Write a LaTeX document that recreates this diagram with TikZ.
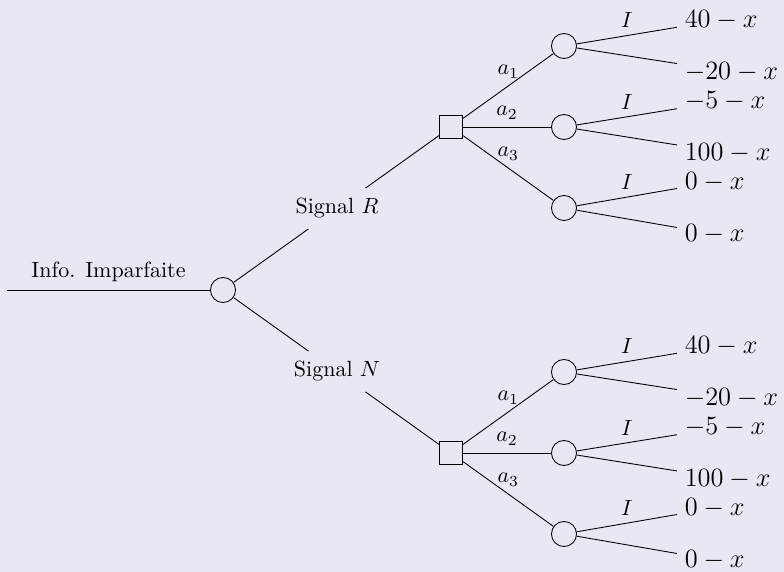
\documentclass[tikz,border=0pt]{standalone}
\definecolor{bgcol}{RGB}{232,232,242}
\begin{document}
\begin{tikzpicture}[x=0.4545pt,y=-0.4545pt,
  chance/.style={circle,draw,inner sep=0pt,minimum size=11.4pt},
  decision/.style={rectangle,draw,inner sep=0pt,minimum size=10.6pt},
  signal/.style={inner xsep=3.33pt,inner ysep=4.5pt},
  payoff/.style={anchor=west,font=\large},
  lab/.style={midway,above}]
  % canvas
  \fill[bgcol] (0,0) rectangle (784,572);
  \useasboundingbox (0,0) rectangle (784,572);

  % information node and the two signals
  \coordinate (start) at (7,290);
  \node[chance] (root) at (223,290) {};
  \node[signal] (sR) at (337,208.5) {Signal $R$};
  \node[signal] (sN) at (337,371.5) {Signal $N$};
  \draw (start) -- node[lab] {Info. Imparfaite} (root);
  \draw (root) -- (sR);
  \draw (root) -- (sN);

  % decision after each signal, then actions and payoffs
  \foreach \g/\gy in {R/127, N/453} {
    \node[decision] (d\g) at (451,\gy) {};
    \draw (s\g) -- (d\g);
    \foreach \k/\dy/\up/\lo in {1/-81/40/-20, 2/0/-5/100, 3/81/0/0} {
      \node[chance] (c\g\k) at (564,{\gy+(\dy)}) {};
      \node[payoff] (u\g\k) at (677,{\gy+(\dy)-26}) {$\up-x$};
      \node[payoff] (l\g\k) at (677,{\gy+(\dy)+26}) {$\lo-x$};
      \draw (d\g) -- node[lab] {$a_\k$} (c\g\k);
      \draw (c\g\k) -- node[lab] {$I$} (u\g\k);
      \draw (c\g\k) -- (l\g\k);
    }
  }
\end{tikzpicture}
\end{document}
